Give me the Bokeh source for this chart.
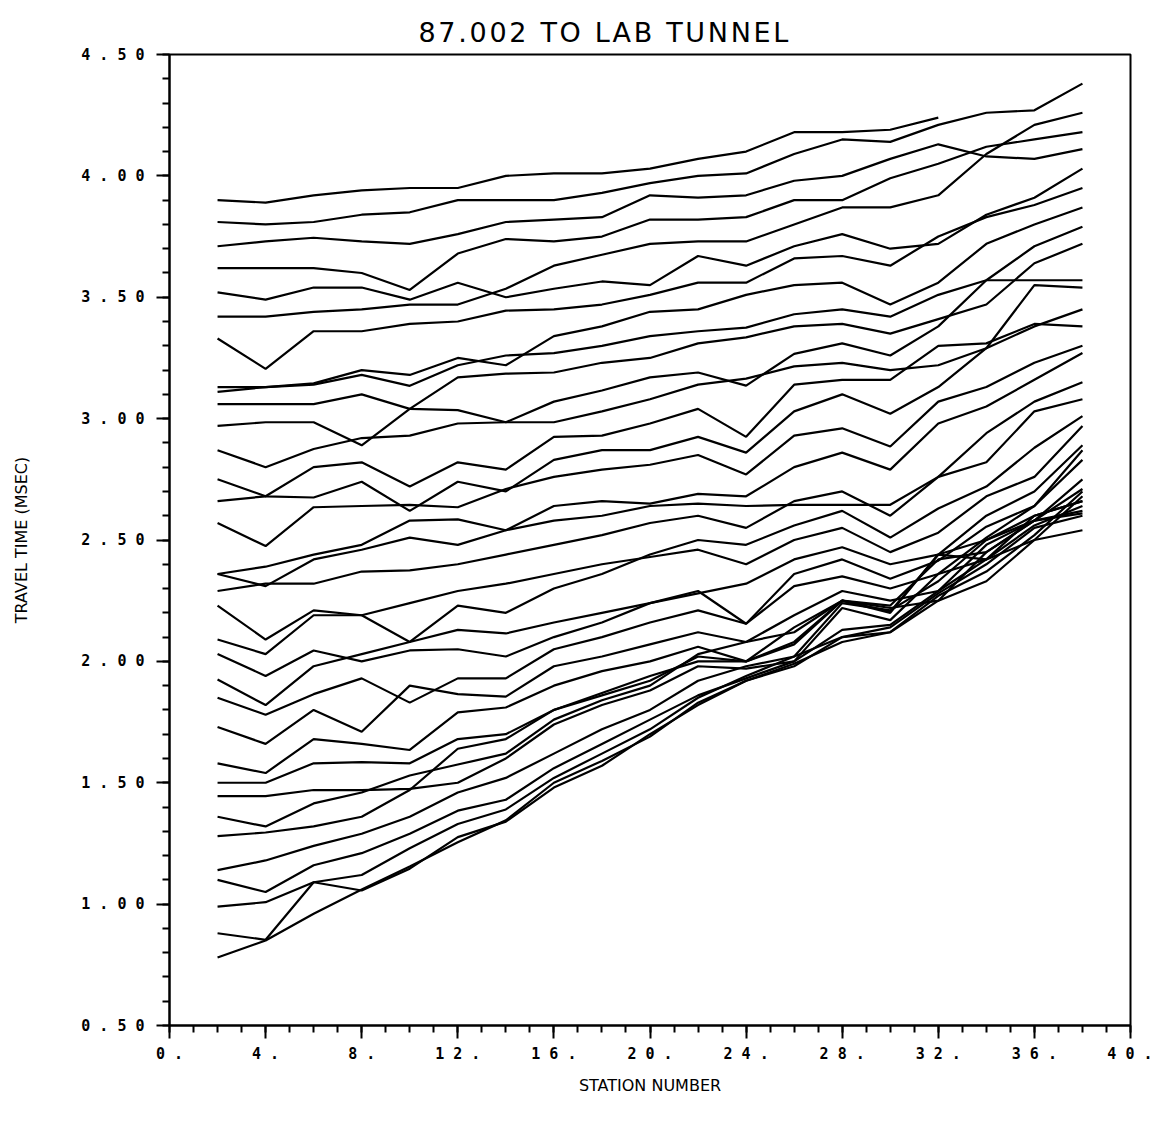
from bokeh.plotting import figure
from bokeh.models import FixedTicker, ColumnDataSource, Title
from bokeh.embed import file_html
from bokeh.resources import INLINE

stations = [2, 4, 6, 8, 10, 12, 14, 16, 18, 20, 22, 24, 26, 28, 30, 32, 34, 36, 38]

traces = [
    [3.90, 3.89, 3.92, 3.94, 3.95, 3.95, 4.00, 4.01, 4.01, 4.03, 4.07, 4.10, 4.18, 4.18, 4.19, 4.24],
    [3.81, 3.80, 3.81, 3.84, 3.85, 3.90, 3.90, 3.90, 3.93, 3.97, 4.00, 4.01, 4.09, 4.15, 4.14, 4.21, 4.26, 4.27, 4.38],
    [3.71, 3.73, 3.745, 3.73, 3.72, 3.76, 3.81, 3.82, 3.83, 3.92, 3.91, 3.92, 3.98, 4.00, 4.07, 4.13, 4.08, 4.07, 4.11],
    [3.62, 3.62, 3.62, 3.60, 3.53, 3.68, 3.74, 3.73, 3.75, 3.82, 3.82, 3.83, 3.90, 3.90, 3.99, 4.05, 4.12, 4.15, 4.18],
    [3.52, 3.49, 3.54, 3.54, 3.49, 3.56, 3.50, 3.535, 3.565, 3.55, 3.67, 3.63, 3.71, 3.76, 3.70, 3.72, 3.84, 3.91, 4.03],
    [3.42, 3.42, 3.44, 3.45, 3.47, 3.47, 3.535, 3.63, 3.675, 3.72, 3.73, 3.73, 3.80, 3.87, 3.87, 3.92, 4.09, 4.21, 4.26],
    [3.33, 3.205, 3.36, 3.36, 3.39, 3.40, 3.445, 3.45, 3.47, 3.51, 3.56, 3.56, 3.66, 3.67, 3.63, 3.75, 3.83, 3.88, 3.95],
    [3.13, 3.13, 3.145, 3.20, 3.18, 3.25, 3.22, 3.34, 3.38, 3.44, 3.45, 3.51, 3.55, 3.56, 3.47, 3.56, 3.72, 3.80, 3.87],
    [3.11, 3.13, 3.14, 3.18, 3.135, 3.22, 3.26, 3.27, 3.30, 3.34, 3.36, 3.375, 3.43, 3.45, 3.42, 3.51, 3.57, 3.71, 3.79],
    [3.06, 3.06, 3.06, 3.10, 3.04, 3.035, 2.985, 3.07, 3.116, 3.17, 3.19, 3.136, 3.267, 3.31, 3.26, 3.38, 3.57, 3.57, 3.57],
    [2.97, 2.985, 2.985, 2.89, 3.04, 3.17, 3.185, 3.19, 3.23, 3.25, 3.31, 3.335, 3.38, 3.39, 3.35, 3.41, 3.47, 3.64, 3.72],
    [2.87, 2.80, 2.875, 2.92, 2.93, 2.98, 2.985, 2.985, 3.03, 3.08, 3.14, 3.165, 3.215, 3.23, 3.20, 3.22, 3.29, 3.38, 3.45],
    [2.75, 2.68, 2.675, 2.74, 2.62, 2.74, 2.70, 2.83, 2.87, 2.87, 2.925, 2.86, 3.03, 3.10, 3.02, 3.13, 3.29, 3.55, 3.54],
    [2.66, 2.68, 2.80, 2.82, 2.72, 2.82, 2.79, 2.925, 2.93, 2.98, 3.04, 2.925, 3.14, 3.16, 3.16, 3.30, 3.31, 3.39, 3.38],
    [2.57, 2.475, 2.635, 2.64, 2.645, 2.635, 2.71, 2.76, 2.79, 2.81, 2.85, 2.77, 2.93, 2.96, 2.885, 3.07, 3.13, 3.23, 3.30],
    [2.36, 2.39, 2.44, 2.48, 2.58, 2.585, 2.54, 2.64, 2.66, 2.65, 2.69, 2.68, 2.80, 2.86, 2.79, 2.98, 3.05, 3.16, 3.27],
    [2.36, 2.31, 2.42, 2.46, 2.51, 2.48, 2.54, 2.58, 2.60, 2.64, 2.65, 2.64, 2.645, 2.645, 2.645, 2.76, 2.94, 3.07, 3.15],
    [2.29, 2.32, 2.32, 2.37, 2.375, 2.40, 2.44, 2.48, 2.52, 2.57, 2.60, 2.55, 2.66, 2.70, 2.60, 2.76, 2.82, 3.03, 3.08],
    [2.23, 2.09, 2.21, 2.19, 2.08, 2.23, 2.20, 2.30, 2.36, 2.44, 2.50, 2.48, 2.56, 2.62, 2.51, 2.63, 2.72, 2.88, 3.01],
    [2.09, 2.03, 2.19, 2.19, 2.24, 2.29, 2.32, 2.36, 2.40, 2.43, 2.46, 2.40, 2.50, 2.55, 2.45, 2.53, 2.68, 2.76, 2.97],
    [2.03, 1.94, 2.045, 2.00, 2.045, 2.05, 2.02, 2.10, 2.16, 2.24, 2.28, 2.32, 2.42, 2.47, 2.40, 2.44, 2.60, 2.70, 2.89],
    [1.925, 1.82, 1.98, 2.03, 2.08, 2.13, 2.115, 2.16, 2.20, 2.24, 2.29, 2.155, 2.36, 2.42, 2.34, 2.415, 2.555, 2.64, 2.87],
    [1.85, 1.78, 1.865, 1.93, 1.83, 1.93, 1.93, 2.05, 2.10, 2.16, 2.21, 2.155, 2.31, 2.35, 2.30, 2.36, 2.51, 2.64, 2.83],
    [1.73, 1.66, 1.80, 1.71, 1.90, 1.865, 1.855, 1.98, 2.02, 2.07, 2.12, 2.08, 2.19, 2.29, 2.25, 2.29, 2.48, 2.58, 2.75],
    [1.58, 1.54, 1.68, 1.66, 1.635, 1.79, 1.81, 1.90, 1.96, 2.00, 2.06, 2.00, 2.14, 2.25, 2.22, 2.25, 2.45, 2.58, 2.71],
    [1.50, 1.50, 1.58, 1.585, 1.58, 1.68, 1.70, 1.80, 1.87, 1.94, 2.00, 2.00, 2.07, 2.25, 2.205, 2.44, 2.42, 2.50, 2.68],
    [1.445, 1.445, 1.47, 1.47, 1.475, 1.50, 1.60, 1.74, 1.82, 1.88, 1.98, 1.97, 2.00, 2.22, 2.17, 2.36, 2.42, 2.60, 2.66],
    [1.36, 1.32, 1.415, 1.46, 1.53, 1.575, 1.62, 1.76, 1.84, 1.90, 2.03, 2.08, 2.12, 2.25, 2.20, 2.44, 2.50, 2.58, 2.61],
    [1.28, 1.295, 1.32, 1.36, 1.47, 1.64, 1.68, 1.80, 1.86, 1.92, 2.02, 2.00, 2.08, 2.25, 2.23, 2.42, 2.45, 2.58, 2.62],
    [1.14, 1.18, 1.24, 1.29, 1.36, 1.46, 1.52, 1.62, 1.72, 1.80, 1.92, 1.98, 2.02, 2.24, 2.21, 2.33, 2.50, 2.60, 2.66],
    [1.10, 1.05, 1.16, 1.21, 1.29, 1.385, 1.43, 1.56, 1.66, 1.76, 1.86, 1.93, 2.00, 2.13, 2.15, 2.29, 2.42, 2.56, 2.64],
    [0.99, 1.008, 1.09, 1.12, 1.23, 1.33, 1.39, 1.52, 1.62, 1.72, 1.85, 1.94, 2.02, 2.10, 2.12, 2.27, 2.37, 2.52, 2.70],
    [0.88, 0.853, 1.09, 1.056, 1.146, 1.276, 1.34, 1.48, 1.57, 1.70, 1.82, 1.92, 1.99, 2.08, 2.12, 2.25, 2.33, 2.50, 2.54],
    [0.78, 0.85, 0.96, 1.06, 1.155, 1.255, 1.345, 1.50, 1.59, 1.69, 1.83, 1.92, 1.98, 2.10, 2.14, 2.28, 2.40, 2.55, 2.60],
]

x_ticks = [0, 4, 8, 12, 16, 20, 24, 28, 32, 36, 40]
x_tick_labels = ["0.", "4.", "8.", "12.", "16.", "20.", "24.", "28.", "32.", "36.", "40."]
y_ticks = [0.5, 1.0, 1.5, 2.0, 2.5, 3.0, 3.5, 4.0, 4.5]
y_tick_labels = ["0.50", "1.00", "1.50", "2.00", "2.50", "3.00", "3.50", "4.00", "4.50"]
title_text = "87.002 TO LAB TUNNEL"

TS = "\u2009"
HS = "\u200a"


def spaced(s, sep=TS):
    return sep.join(list(s))


p = figure(width=1152, height=1123, x_range=(0, 40), y_range=(0.5, 4.5),
           output_backend="svg", toolbar_location=None,
           min_border_left=169, min_border_right=22, min_border_top=54, min_border_bottom=98)
p.background_fill_color = "white"
p.border_fill_color = "white"
p.grid.visible = False
p.outline_line_color = "black"
p.outline_line_width = 2

xs = [stations[:len(t)] for t in traces]
src = ColumnDataSource(dict(xs=xs, ys=traces))
p.multi_line("xs", "ys", source=src, line_color="black", line_width=2.2)

font = "DejaVu Sans Mono"
for ax in (p.xaxis[0], p.yaxis[0]):
    ax.axis_line_width = 2
    ax.axis_line_color = "black"
    ax.major_tick_line_width = 2
    ax.minor_tick_line_width = 2
    ax.major_tick_in = 0
    ax.minor_tick_in = 0
    ax.major_tick_out = 13
    ax.minor_tick_out = 7
    ax.major_label_text_font = font
    ax.major_label_text_font_size = "15px"
    ax.major_label_text_font_style = "bold"
    ax.major_label_text_color = "black"
    ax.axis_label_text_font = "DejaVu Sans"
    ax.axis_label_text_font_size = "16px"
    ax.axis_label_text_font_style = "normal"
    ax.axis_label_text_color = "black"

p.xaxis.ticker = FixedTicker(ticks=x_ticks, minor_ticks=list(range(0, 41)))
p.yaxis.ticker = FixedTicker(ticks=y_ticks, minor_ticks=[round(0.5 + 0.1 * i, 2) for i in range(41)])
p.xaxis.major_label_overrides = {t: spaced(l) for t, l in zip(x_ticks, x_tick_labels)}
p.yaxis.major_label_overrides = {t: spaced(l) for t, l in zip(y_ticks, y_tick_labels)}
p.xaxis.major_label_standoff = 6
p.yaxis.major_label_standoff = 12
p.xaxis.axis_label = "STATION NUMBER"
p.yaxis.axis_label = "TRAVEL TIME (MSEC)"
p.xaxis.axis_label_standoff = 10
p.yaxis.axis_label_standoff = 47

p.title = Title(text=spaced(title_text, HS), align="left", offset=249,
                vertical_align="top",
                text_font="DejaVu Sans", text_font_size="27px",
                text_font_style="normal", text_color="black", standoff=10)

open("out.html", "w").write(file_html(p, INLINE))
